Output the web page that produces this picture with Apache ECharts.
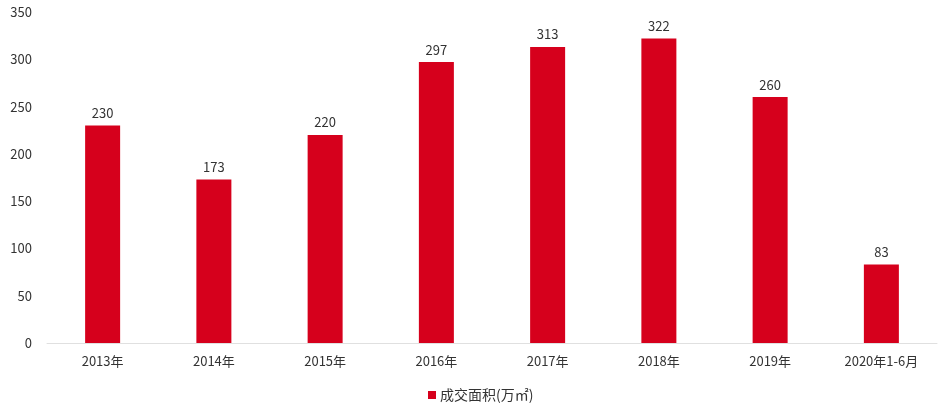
<!DOCTYPE html>
<html><head><meta charset="utf-8">
<script src="https://cdn.jsdelivr.net/npm/echarts@6/dist/echarts.min.js"></script>
<style>html,body{margin:0;padding:0;background:#fff}#c{width:946px;height:415px}</style>
</head><body><div id="c"></div>
<script>
const categories = ['2013年','2014年','2015年','2016年','2017年','2018年','2019年','2020年1-6月'];
const areaValues = [230,173,220,297,313,322,260,83];
const yTicks = [0,50,100,150,200,250,300,350];
const seriesName = '成交面积(万㎡)';

const chart = echarts.init(document.getElementById('c'));
chart.setOption({
  animation:false,
  textStyle:{fontFamily:'"Noto Sans CJK SC","Noto Sans",sans-serif'},
  grid:{left:47,right:9,top:12,bottom:72,containLabel:false},
  legend:{data:[seriesName],bottom:8,left:423,itemWidth:8,itemHeight:8,itemGap:6,icon:'rect',
    textStyle:{fontSize:14,color:'#333',padding:[0,0,0,-1]}},
  xAxis:{type:'category',data:categories,
    axisLine:{lineStyle:{color:'#e0e0e0'}},axisTick:{show:false},
    axisLabel:{color:'#333',fontSize:13,margin:12}},
  yAxis:{type:'value',min:yTicks[0],max:yTicks[yTicks.length-1],interval:50,
    axisLine:{show:false},axisTick:{show:false},splitLine:{show:false},
    axisLabel:{color:'#333',fontSize:13,margin:15}},
  series:[{name:seriesName,type:'bar',data:areaValues,barWidth:35,
    itemStyle:{color:'#D6001C'},
    label:{show:true,position:'top',color:'#333',fontSize:13,distance:6}}]
});
</script></body></html>
